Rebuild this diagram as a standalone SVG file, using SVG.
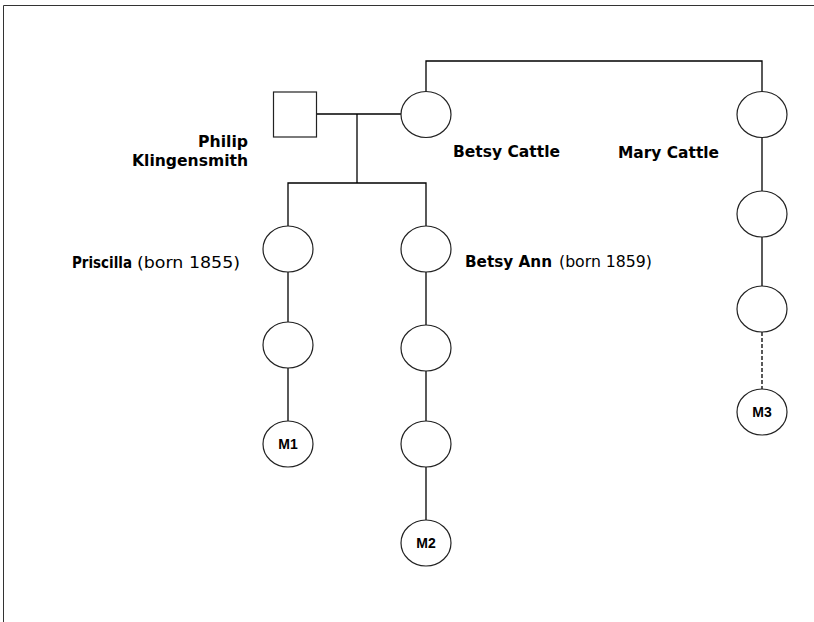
<svg xmlns="http://www.w3.org/2000/svg" width="814" height="622" viewBox="0 0 814 622">
<style>
.n{fill:#fff;stroke:#222;stroke-width:1.2}
.c{fill:none;stroke:#000;stroke-width:1.3}
.d{stroke-dasharray:4 2}
.lb{font-family:"DejaVu Sans",Verdana,sans-serif;font-size:16px;font-weight:bold;fill:#000}
.ln{font-family:"DejaVu Sans",Verdana,sans-serif;font-size:16px;fill:#000}
.m{font-family:"Liberation Sans",Arial,sans-serif;font-size:14px;font-weight:bold;fill:#000;text-anchor:middle}
</style>
<rect width="814" height="622" fill="#fff"/>
<path d="M3.5 622V5.5H814" fill="none" stroke="#333" stroke-width="1"/>
<g id="connectors">
<path class="c" d="M317 114H401"/>
<path class="c" d="M357 114V183"/>
<path class="c" d="M288 226V183H426V226"/>
<path class="c" d="M288 272V322"/>
<path class="c" d="M288 368V421"/>
<path class="c" d="M426 272V325"/>
<path class="c" d="M426 371V421"/>
<path class="c" d="M426 467V520"/>
<path class="c" d="M426 92V61H762V92"/>
<path class="c" d="M762 137V191"/>
<path class="c" d="M762 237V286"/>
<path class="c d" d="M762 332V389"/>
</g>
<g id="philip">
<rect class="n" x="273.5" y="92" width="43" height="45"/>
<text class="lb" x="248" y="147" text-anchor="end" textLength="50" lengthAdjust="spacingAndGlyphs">Philip</text>
<text class="lb" x="248" y="166" text-anchor="end" textLength="116" lengthAdjust="spacingAndGlyphs">Klingensmith</text>
</g>
<g id="betsy-cattle">
<ellipse class="n" cx="426" cy="114.5" rx="25" ry="23"/>
<text class="lb" x="453" y="157" textLength="107" lengthAdjust="spacingAndGlyphs">Betsy Cattle</text>
</g>
<g id="mary-cattle">
<ellipse class="n" cx="762" cy="114.5" rx="25" ry="23"/>
<text class="lb" x="618" y="158" textLength="101" lengthAdjust="spacingAndGlyphs">Mary Cattle</text>
</g>
<g id="mary-2"><ellipse class="n" cx="762" cy="214" rx="25" ry="23"/></g>
<g id="mary-3"><ellipse class="n" cx="762" cy="309" rx="25" ry="23"/></g>
<g id="m3"><ellipse class="n" cx="762" cy="412" rx="25" ry="23"/><text class="m" x="762" y="417">M3</text></g>
<g id="priscilla">
<ellipse class="n" cx="288" cy="249" rx="25" ry="23"/>
<text class="lb" x="72" y="268" textLength="60" lengthAdjust="spacingAndGlyphs">Priscilla</text>
<text class="ln" x="137" y="268" textLength="103" lengthAdjust="spacingAndGlyphs">(born 1855)</text>
</g>
<g id="priscilla-2"><ellipse class="n" cx="288" cy="345" rx="25" ry="23"/></g>
<g id="m1"><ellipse class="n" cx="288" cy="444" rx="25" ry="23"/><text class="m" x="288" y="449">M1</text></g>
<g id="betsy-ann">
<ellipse class="n" cx="426" cy="249" rx="25" ry="23"/>
<text class="lb" x="465" y="267" textLength="87" lengthAdjust="spacingAndGlyphs">Betsy Ann</text>
<text class="ln" x="559" y="267" textLength="93" lengthAdjust="spacingAndGlyphs">(born 1859)</text>
</g>
<g id="betsy-ann-2"><ellipse class="n" cx="426" cy="348" rx="25" ry="23"/></g>
<g id="betsy-ann-3"><ellipse class="n" cx="426" cy="444" rx="25" ry="23"/></g>
<g id="m2"><ellipse class="n" cx="426" cy="543" rx="25" ry="23"/><text class="m" x="426" y="548">M2</text></g>
</svg>
